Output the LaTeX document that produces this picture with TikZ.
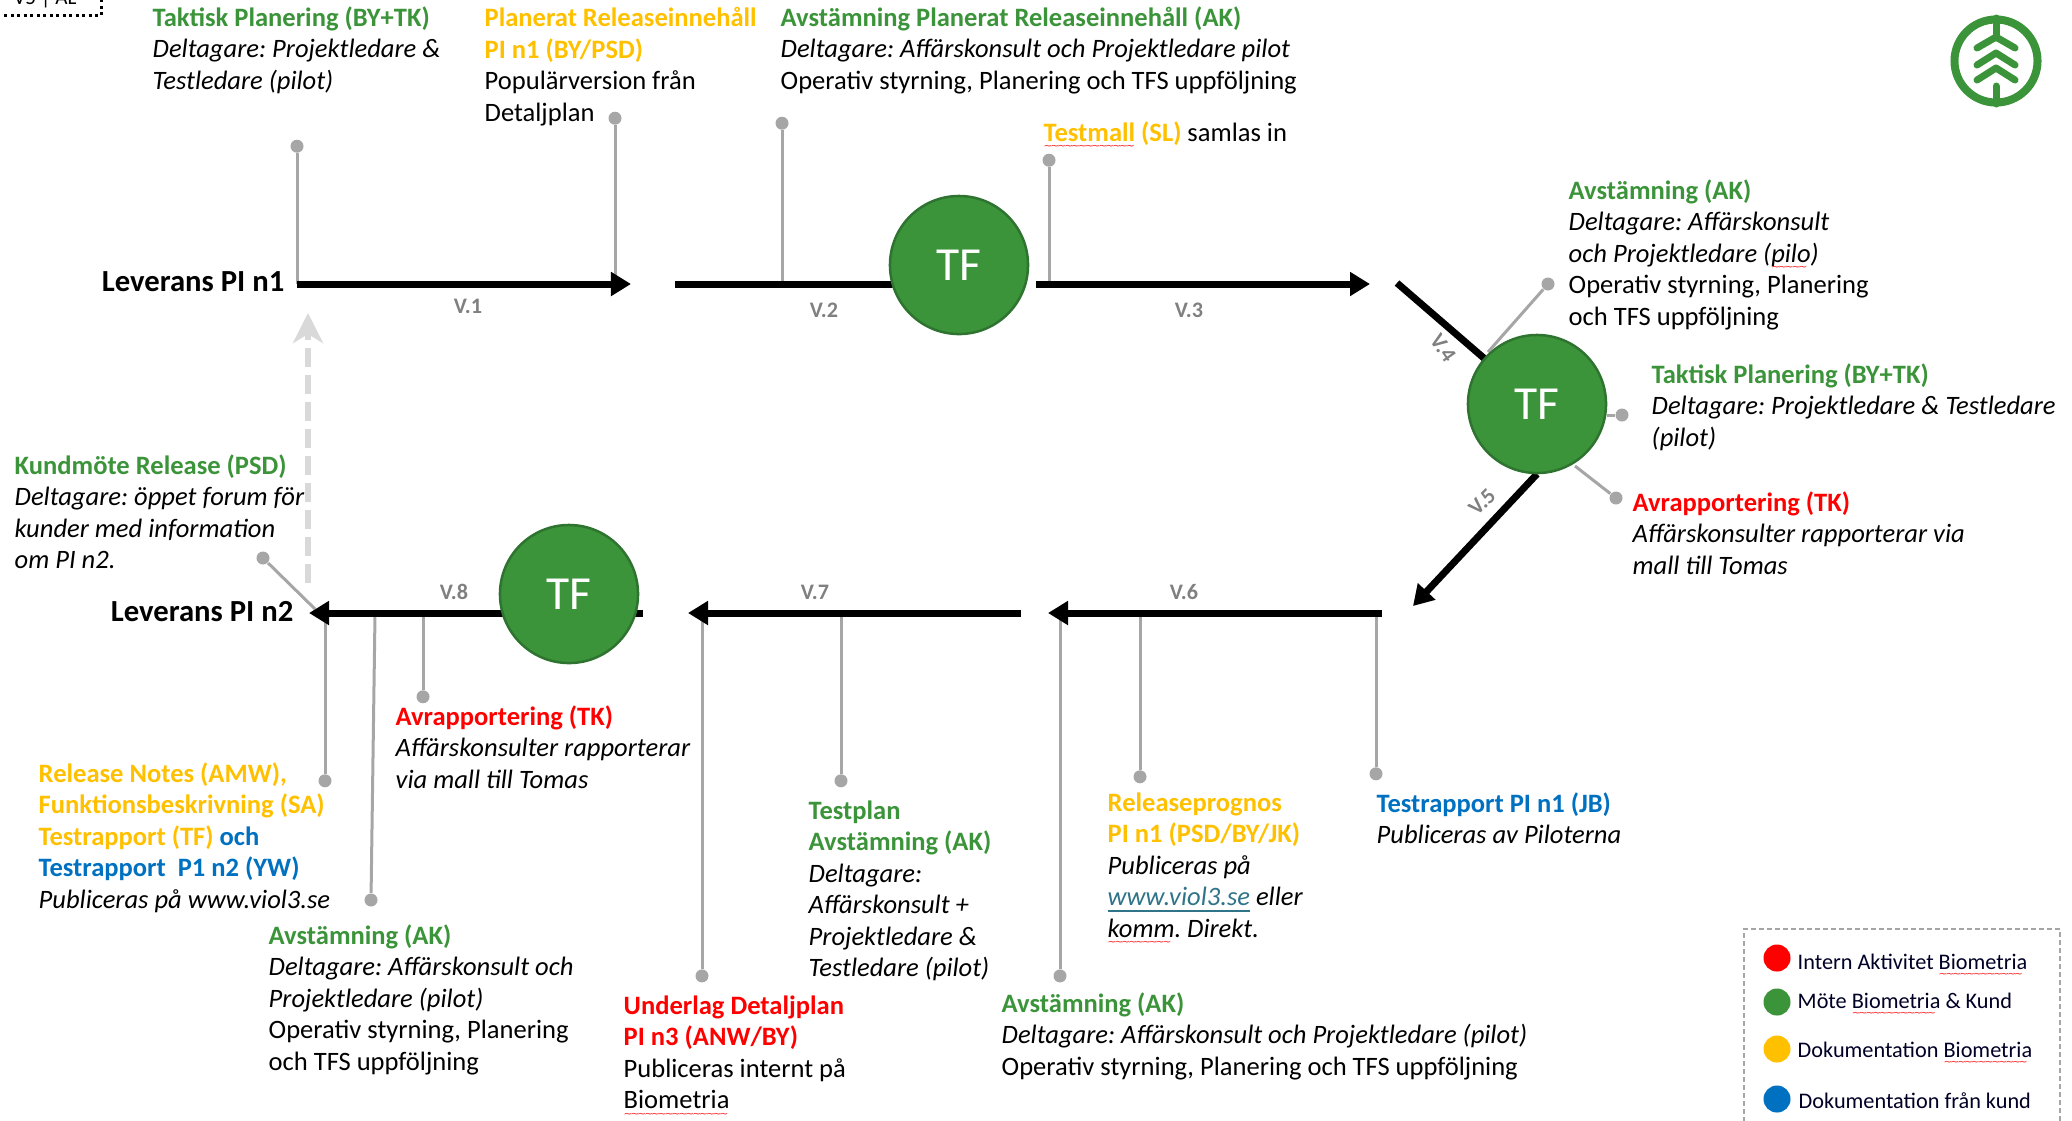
\documentclass[tikz,border=0pt]{standalone}
\usepackage{fontspec}
\setmainfont{Carlito}
\newfontfamily\wavefont{DejaVu Sans}
\usetikzlibrary{arrows.meta, positioning}
\definecolor{bioGreen}{HTML}{3B9439}
\definecolor{bioEdge}{HTML}{2E7430}
\definecolor{bioOrange}{HTML}{FFC000}
\definecolor{bioRed}{HTML}{FF0000}
\definecolor{bioBlue}{HTML}{0070C0}
\definecolor{pinGrey}{HTML}{A6A6A6}
\definecolor{linkTeal}{HTML}{2F7488}
\frenchspacing
\newcommand{\grn}[1]{\textcolor{bioGreen}{\textbf{#1}}}
\newcommand{\org}[1]{\textcolor{bioOrange}{\textbf{#1}}}
\newcommand{\rdd}[1]{\textcolor{bioRed}{\textbf{#1}}}
\newcommand{\blu}[1]{\textcolor{bioBlue}{\textbf{#1}}}
\newsavebox{\wavebox}
\sbox{\wavebox}{\textcolor{bioRed!85}{\wavefont\fontsize{3}{3}\selectfont ∼}}
\wd\wavebox=1.95pt
\newcommand{\spl}[1]{\setbox0\hbox{#1}\rlap{\lower2.4pt\hbox to \wd0{\leaders\copy\wavebox\hfill}}\box0\relax}
\tikzstyle{flow}=[line width=0.07cm, -{Triangle[length=0.2cm,width=0.23cm]}]
\tikzstyle{stem}=[line width=0.07cm]
\tikzstyle{pinline}=[pinGrey, line width=0.03cm]
\tikzstyle{pindot}=[circle, fill=pinGrey, inner sep=0pt, minimum size=0.13cm]
\tikzstyle{tfnode}=[circle, fill=bioGreen, draw=bioEdge, line width=0.025cm, minimum size=1.38cm, inner sep=0pt, text=white, font=\fontsize{13.5}{15}\selectfont]
\tikzstyle{txt}=[anchor=north west, align=left, inner sep=0pt, yshift=0.012cm, font=\fontsize{7.55}{8.96}\selectfont]
\tikzstyle{week}=[text=black!50, font=\fontsize{6.3}{7}\selectfont\bfseries, inner sep=0pt]
\tikzstyle{delivery}=[anchor=east, inner sep=0pt, font=\fontsize{8.72}{10}\selectfont\bfseries]
\tikzstyle{legdot}=[circle, inner sep=0pt, minimum size=0.27cm]
\tikzstyle{legtxt}=[anchor=west, inner sep=0pt, text=black!85!blue, font=\fontsize{6.33}{7}\selectfont]
\tikzstyle{logoline}=[bioGreen, line width=0.07cm, line cap=round, line join=round]

\begin{document}
\begin{tikzpicture}[x=0.01cm, y=-0.01cm]
  \useasboundingbox (0,0) rectangle (2072,1120);
  \clip (0,0) rectangle (2072,1120);
  % version tag, cut by the page
  \node[draw, densely dotted, line width=0.03cm, anchor=south east, minimum width=1.3cm, minimum height=0.5cm, inner sep=0pt] (tag) at (103,17) {};
  \node[inner sep=0pt, anchor=base, font=\fontsize{6}{7}\selectfont] (tagtxt) at (45,4) {V5 | AL};

  % axis points
  \coordinate (a1) at (297,284);
  \coordinate (a2) at (615,284);
  \coordinate (a3) at (782,288);
  \coordinate (a4) at (1049,284);
  \coordinate (b1) at (1376,613);
  \coordinate (b2) at (1140,613);
  \coordinate (b3) at (1060,613);
  \coordinate (b4) at (841,615);
  \coordinate (b5) at (702,615);
  \coordinate (b6) at (423,615);
  \coordinate (b7) at (375,615);
  \coordinate (b8) at (325,613);

  % pins
  \node[pindot] (p1) [above=1.305cm of a1] {};
  \node[pindot] (p2) [above=1.585cm of a2] {};
  \node[pindot] (p3) [above=1.575cm of a3] {};
  \node[pindot] (p4) [above=1.165cm of a4] {};
  \node[pindot] (p5) at (1548,284) {};
  \node[pindot] (p6) at (1622,415) {};
  \node[pindot] (p7) at (1616,498) {};
  \node[pindot] (q1) [below=1.535cm of b1] {};
  \node[pindot] (q2) [below=1.565cm of b2] {};
  \node[pindot] (q3) [below=3.555cm of b3] {};
  \node[pindot] (q4) [below=1.585cm of b4] {};
  \node[pindot] (q5) [below=3.535cm of b5] {};
  \node[pindot] (q6) [below=0.745cm of b6] {};
  \node[pindot] (q7) at (371,900) {};
  \node[pindot] (q8) [below=1.605cm of b8] {};
  \node[pindot] (q9) at (263,558) {};
  \coordinate (k1) at (315,609);
  \coordinate (t1) at (1488,352);
  \coordinate (t2) at (1607,415);
  \coordinate (t3) at (1575,466);
  \draw[pinline] (p1) -- (a1);
  \draw[pinline] (p2) -- (a2);
  \draw[pinline] (p3) -- (a3);
  \draw[pinline] (p4) -- (a4);
  \draw[pinline] (p5) -- (t1);
  \draw[pinline] (p6) -- (t2);
  \draw[pinline] (p7) -- (t3);
  \draw[pinline] (q1) -- (b1);
  \draw[pinline] (q2) -- (b2);
  \draw[pinline] (q3) -- (b3);
  \draw[pinline] (q4) -- (b4);
  \draw[pinline] (q5) -- (b5);
  \draw[pinline] (q6) -- (b6);
  \draw[pinline] (q7) -- (b7);
  \draw[pinline] (q8) -- (b8);
  \draw[pinline] (q9) -- (k1);

  % main flow
  \coordinate (f1) at (297,284);
  \coordinate (f2) at (631,284);
  \coordinate (f3) at (675,284);
  \coordinate (f3b) at (950,284);
  \coordinate (f4) at (1036,284);
  \coordinate (f5) at (1370,284);
  \coordinate (f6) at (1397,283);
  \coordinate (f7) at (1413,606);
  \coordinate (f8) at (1382,613);
  \coordinate (f9) at (1048,613);
  \coordinate (f10) at (1021,613);
  \coordinate (f11) at (688,613);
  \coordinate (f12) at (643,613);
  \coordinate (f13) at (309,613);
  \coordinate (up1) at (308,583);
  \coordinate (up2) at (308,313);
  \path[flow] (f1) edge (f2);
  \path[stem] (f3) edge (f3b);
  \path[flow] (f4) edge (f5);
  \path[stem] (f6) edge (1537,404);
  \path[flow] (1537,474) edge (f7);
  \path[flow] (f8) edge (f9);
  \path[flow] (f10) edge (f11);
  \path[flow] (f12) edge (f13);
  \draw[black!15, line width=0.065cm, dash pattern=on 0.19cm off 0.08cm, -{Stealth[length=0.3cm,width=0.3cm,inset=0.09cm]}] (up1) -- (up2);
  \node[tfnode] (tf1) at (959,265) {TF};
  \node[tfnode] (tf2) at (1537,404) {TF};
  \node[tfnode] (tf3) at (569,594) {TF};

  \node[delivery] (lev1) at (285,282) {Leverans PI n1};
  \node[delivery] (lev2) at (294,612) {Leverans PI n2};

  \node[week] (v1) at (468,306) {V.1};
  \node[week] (v2) at (824,310) {V.2};
  \node[week] (v3) at (1189,310) {V.3};
  \node[week,rotate=-55] (v4) at (1443,348) {V.4};
  \node[week,rotate=45] (v5) at (1482,502) {V.5};
  \node[week] (v6) at (1184,592) {V.6};
  \node[week] (v7) at (815,592) {V.7};
  \node[week] (v8) at (454,592) {V.8};

  % texts above the flow
  \node[txt] (n1) at (152,7) {\grn{Taktisk Planering (BY+TK)}\\\textit{Deltagare: Projektledare \&}\\\textit{Testledare (pilot)}};
  \node[txt] (n2) at (484,8) {\org{Planerat Releaseinnehåll}\\\org{PI n1 (BY/PSD)}\\Populärversion från\\Detaljplan};
  \node[txt] (n3) at (780,7) {\grn{Avstämning Planerat Releaseinnehåll (AK)}\\\textit{Deltagare: Affärskonsult och Projektledare pilot}\\Operativ styrning, Planering och TFS uppföljning};
  \node[txt] (n4) at (1043,122) {\org{\spl{Testmall} (SL)} samlas in};
  \node[txt] (n5) at (1568,180) {\grn{Avstämning (AK)}\\\textit{Deltagare: Affärskonsult}\\\textit{och Projektledare (\spl{pilo})}\\Operativ styrning, Planering\\och TFS uppföljning};
  \node[txt] (n6) at (1651,364) {\grn{Taktisk Planering (BY+TK)}\\\textit{Deltagare: Projektledare \& Testledare}\\\textit{(pilot)}};
  \node[txt] (n7) at (1632,492) {\rdd{Avrapportering (TK)}\\\textit{Affärskonsulter rapporterar via}\\\textit{mall till Tomas}};
  \node[txt] (n8) at (14,455) {\grn{Kundmöte Release (PSD)}\\\textit{Deltagare: öppet forum för}\\\textit{kunder med information}\\\textit{om PI n2.}};

  % texts below the flow
  \node[txt] (n9) at (395,706) {\rdd{Avrapportering (TK)}\\\textit{Affärskonsulter rapporterar}\\\textit{via mall till Tomas}};
  \node[txt] (n10) at (38,763) {\org{Release Notes (AMW),}\\\org{Funktionsbeskrivning (SA)}\\\org{Testrapport (TF)} \blu{och}\\\blu{Testrapport\ \ P1 n2 (YW)}\\\textit{Publiceras på www.viol3.se}};
  \node[txt] (n11) at (268,925) {\grn{Avstämning (AK)}\\\textit{Deltagare: Affärskonsult och}\\\textit{Projektledare (pilot)}\\Operativ styrning, Planering\\och TFS uppföljning};
  \node[txt] (n12) at (623,996) {\rdd{Underlag Detaljplan}\\\rdd{PI n3 (ANW/BY)}\\Publiceras internt på\\\spl{Biometria}};
  \node[txt] (n13) at (808,801) {\grn{Testplan}\\\grn{Avstämning (AK)}\\\textit{Deltagare:}\\\textit{Affärskonsult +}\\\textit{Projektledare \&}\\\textit{Testledare (pilot)}};
  \node[txt] (n14) at (1107,793) {\org{Releaseprognos}\\\org{PI n1 (PSD/BY/JK)}\\\textit{Publiceras på}\\\textit{\textcolor{linkTeal}{\underline{www.viol3.se}} eller}\\\textit{\spl{komm}. Direkt.}};
  \node[txt] (n15) at (1376,793) {\blu{Testrapport PI n1 (JB)}\\\textit{Publiceras av Piloterna}};
  \node[txt] (n16) at (1001,993) {\grn{Avstämning (AK)}\\\textit{Deltagare: Affärskonsult och Projektledare (pilot)}\\Operativ styrning, Planering och TFS uppföljning};

  % legend
  \node[draw=pinGrey, line width=0.02cm, dash pattern=on 0.05cm off 0.03cm, anchor=north west, minimum width=3.16cm, minimum height=2.2cm, inner sep=0pt] (legend) at (1743,928) {};
  \node[legdot, fill=bioRed] (d1) at (1777,958) {};
  \node[legdot, fill=bioGreen] (d2) at (1777,1002) {};
  \node[legdot, fill=bioOrange] (d3) at (1777,1049) {};
  \node[legdot, fill=bioBlue] (d4) at (1777,1099) {};
  \node[legtxt] (l1) at (1797,966) {Intern Aktivitet \spl{Biometria}};
  \node[legtxt] (l2) at (1797,1005) {Möte \spl{Biometria} \& Kund};
  \node[legtxt] (l3) at (1797,1054) {Dokumentation \spl{Biometria}};
  \node[legtxt] (l4) at (1798,1101) {Dokumentation från kund};

  % logo
  \draw[bioGreen, line width=0.08cm] (1996,61) circle (0.415cm);
  \draw[logoline] (1996,18) -- (1996,38);
  \draw[logoline] (1977,48) -- (1996,37) -- (2015,48);
  \draw[logoline] (1977,65) -- (1996,53) -- (2015,65);
  \draw[logoline] (1977,80) -- (1996,68) -- (2015,80);
  \draw[logoline] (1996,86) -- (1996,104);
\end{tikzpicture}
\end{document}
